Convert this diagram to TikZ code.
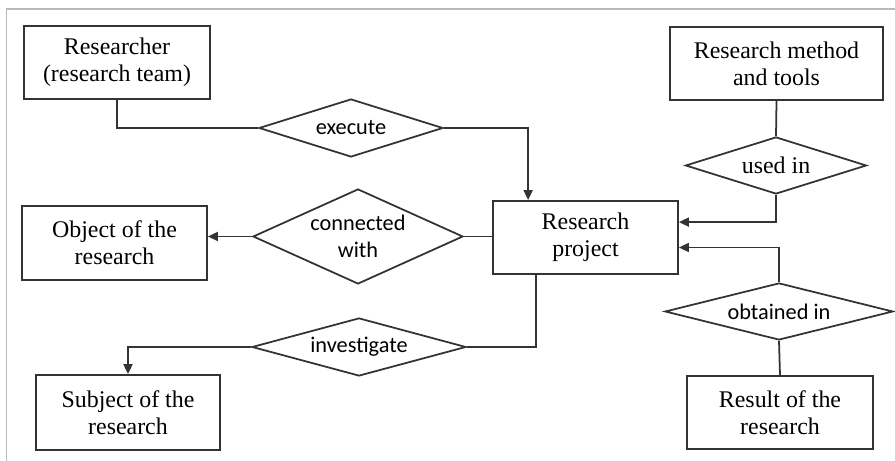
\documentclass[tikz,border=0pt]{standalone}
\usepackage{fontspec}
\setmainfont{Liberation Serif}
\newfontfamily\diafont{Carlito}
\usetikzlibrary{arrows.meta,calc,shapes.geometric}
\tikzset{
  ent/.style={draw=black!80, line width=1pt, align=center, inner sep=2pt,
    font=\fontsize{13.6}{15.4}\selectfont},
  rel/.style={diamond, draw=black!80, line width=1pt, align=center, inner sep=0pt,
    font=\diafont\fontsize{12.7}{15.4}\selectfont},
  lnk/.style={line width=1pt, black!80},
  arr/.style={-{Triangle[length=2mm,width=1.8mm]}, line width=1pt, black!80},
  frm/.style={line width=0.7pt, gray!55},
}

\begin{document}
\begin{tikzpicture}[scale=1]
  \useasboundingbox (0,0) rectangle (17.9,9.22);
  % --- frame ---
  \draw[frm] (0.13,0) -- (0.13,9.04) -- (17.9,9.04);
  % --- entities ---
  \node[ent, minimum width=3.72cm, minimum height=1.46cm] (res) at (2.34,7.97) {Researcher\\(research team)};
  \node[ent, minimum width=4.26cm, minimum height=1.46cm] (meth) at (15.53,7.95) {Research method\\and tools};
  \node[ent, minimum width=3.70cm, minimum height=1.46cm] (proj) at (11.71,4.47) {Research\\project};
  \node[ent, minimum width=3.70cm, minimum height=1.48cm] (obj) at (2.29,4.36) {Object of the\\research};
  \node[ent, minimum width=3.68cm, minimum height=1.50cm] (subj) at (2.56,0.97) {Subject of the\\research};
  \node[ent, minimum width=3.72cm, minimum height=1.46cm] (resl) at (15.60,0.97) {Result of the\\research};
  % --- relations ---
  \node[rel, minimum width=3.68cm, minimum height=1.16cm, shape aspect=3.2] (exe) at (7.02,6.66) {execute};
  \node[rel, minimum width=3.62cm, minimum height=1.14cm, shape aspect=3.2,
        font=\fontsize{13.6}{15.4}\selectfont] (used) at (15.52,5.91) {used in};
  \node[rel, minimum width=4.20cm, minimum height=1.90cm, shape aspect=2.2] (conn) at (7.16,4.49) {connected\\with};
  \node[rel, minimum width=4.28cm, minimum height=1.16cm, shape aspect=3.7] (inv) at (7.18,2.28) {investigate};
  \node[rel, minimum width=4.56cm, minimum height=1.14cm, shape aspect=4.0] (obt) at (15.58,2.99) {obtained in};
  % --- connectors ---
  \coordinate (pin1) at ($(proj.north west)+(0.72,0)$);
  \coordinate (pin2) at ($(proj.north east)+(0,-0.44)$);
  \coordinate (pin3) at ($(proj.east)+(0,-0.2)$);
  \coordinate (pout) at ($(proj.south west)+(0.88,0)$);
  \draw[lnk] (res.south) |- (exe.west);
  \draw[arr] (exe.east) -| (pin1);
  \draw[lnk] (meth.south) -- (used.north);
  \draw[arr] (used.south) |- (pin2);
  \draw[lnk] (conn.east) -- (conn.east -| proj.west);
  \draw[arr] (conn.west) -- (conn.west -| obj.east);
  \draw[lnk] (pout) |- (inv.east);
  \draw[arr] (inv.west) -| (subj.north);
  \draw[arr] (obt.north) |- (pin3);
  \draw[lnk] (obt.south) -- (resl.north);
\end{tikzpicture}
\end{document}
